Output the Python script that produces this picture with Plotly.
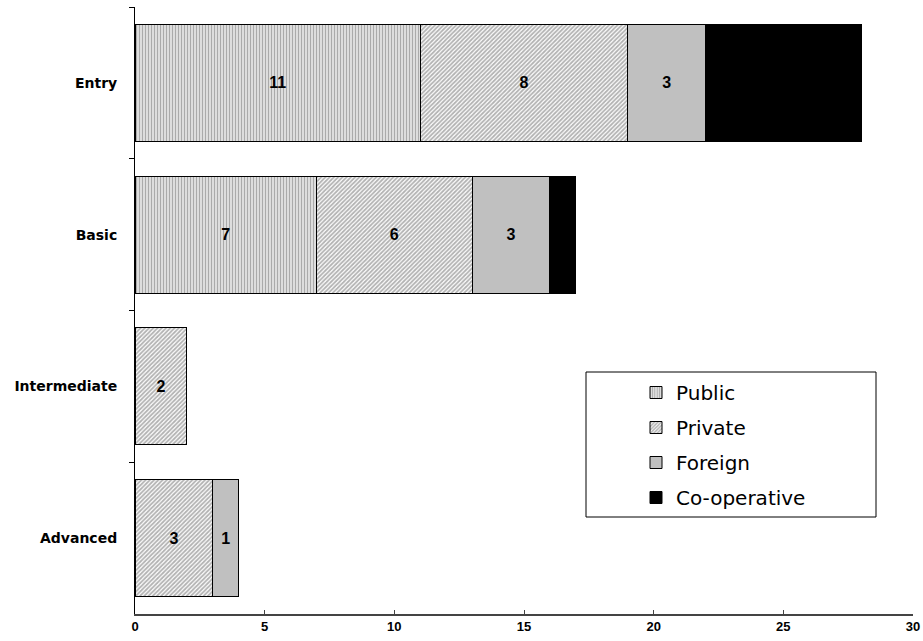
import plotly.graph_objects as go

categories = ["Entry", "Basic", "Intermediate", "Advanced"]
public = [11, 7, None, None]
private = [8, 6, 2, 3]
foreign = [3, 3, None, 1]
cooperative = [6, 1, None, None]
x_ticks = [0, 5, 10, 15, 20, 25, 30]

W, H = 923, 641
L, R, T, B = 135, 10, 7, 27

def px_x(p):
    return (p - L) / (W - L - R)

def px_y(p):
    return (H - B - p) / (H - T - B)

series = [
    ("Public", public, dict(color="white", line=dict(color="black", width=1),
                            pattern=dict(shape="|", fgcolor="#555555", bgcolor="white", size=3, solidity=0.6))),
    ("Private", private, dict(color="white", line=dict(color="black", width=1),
                              pattern=dict(shape="/", fgcolor="#666666", bgcolor="white", size=3, solidity=0.6))),
    ("Foreign", foreign, dict(color="#C0C0C0", line=dict(color="black", width=1))),
    ("Co-operative", cooperative, dict(color="black", line=dict(color="black", width=1))),
]

fig = go.Figure()
for name, vals, marker in series:
    show_text = name != "Co-operative"
    fig.add_trace(go.Bar(
        y=categories, x=vals, name=name, orientation="h",
        marker=marker, legendgroup=name,
        text=[("" if v is None else str(v)) for v in vals] if show_text else None,
        textposition="inside" if show_text else "none",
        insidetextanchor="middle", textangle=0,
        textfont=dict(family="Arial, Liberation Sans", size=16, color="black", weight="bold"),
        hoverinfo="x+y+name",
    ))

fig.update_layout(
    width=W, height=H,
    barmode="stack", bargap=0.23,
    margin=dict(l=L, r=R, t=T, b=B, autoexpand=False),
    plot_bgcolor="white", paper_bgcolor="white",
    showlegend=True,
    legend=dict(
        x=px_x(636), y=px_y(373), xanchor="left", yanchor="top",
        traceorder="grouped", tracegroupgap=6,
        font=dict(family="DejaVu Sans", size=20, color="black"),
        bgcolor="rgba(0,0,0,0)", borderwidth=0,
    ),
    xaxis=dict(
        range=[0, 30], tickvals=x_ticks, ticktext=[str(v) for v in x_ticks],
        showgrid=False, zeroline=False, showline=True, linecolor="#444444", linewidth=1.5,
        ticks="inside", ticklen=4, tickcolor="#444444", automargin=False,
        tickfont=dict(family="Liberation Sans Narrow, Arial Narrow, Arial", size=13, color="black", weight="bold"),
    ),
    yaxis=dict(
        type="category", categoryorder="array", categoryarray=categories,
        range=[3.5, -0.5], showgrid=False, zeroline=False,
        showline=True, linecolor="black", linewidth=1,
        ticks="outside", ticklen=5, tickcolor="black", tickson="boundaries",
        ticklabelstandoff=14, automargin=False,
        tickfont=dict(family="DejaVu Sans", size=14, color="black", weight="bold"),
    ),
    shapes=[dict(type="rect", xref="paper", yref="paper",
                 x0=px_x(586), x1=px_x(876), y0=px_y(517), y1=px_y(372),
                 line=dict(color="black", width=1), fillcolor="rgba(0,0,0,0)", layer="above")],
)

fig.write_html("out.html", config={"displayModeBar": False},
               post_script="document.body.style.margin='0';")
